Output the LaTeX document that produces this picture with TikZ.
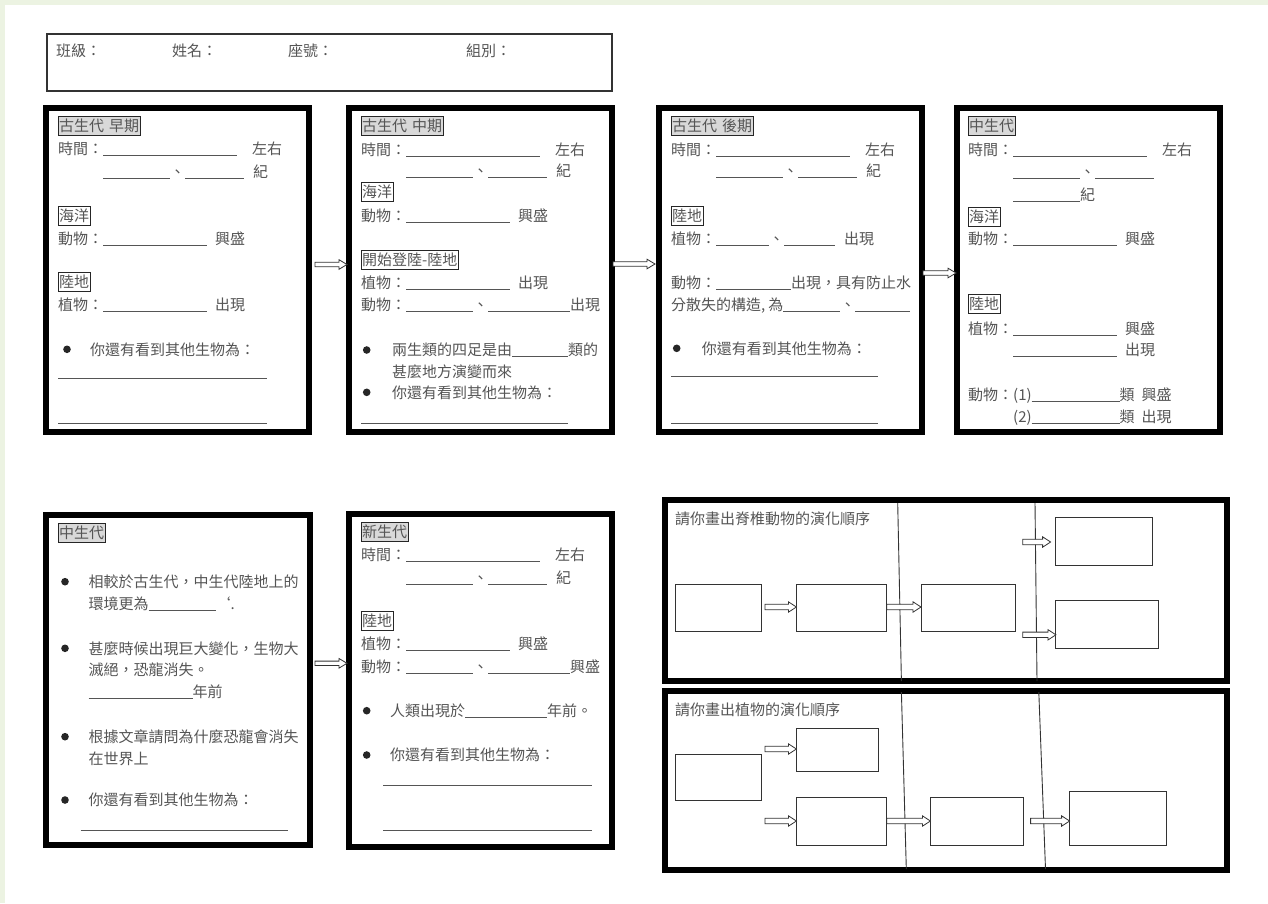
\documentclass[tikz,border=0pt]{standalone}
\usepackage{fontspec}
\setmainfont{Noto Sans CJK TC}
\definecolor{bg}{RGB}{236,243,226}
\definecolor{txt}{RGB}{85,85,85}
\definecolor{hdrfill}{RGB}{217,217,217}
\newcommand{\uln}[1]{\rule[-1.2pt]{#1pt}{0.7pt}}
\newcommand{\barrow}[6]{%
  \draw[arr] (#1,#3-#4) -- (#2-#6,#3-#4) -- (#2-#6,#3-#5) -- (#2,#3) -- (#2-#6,#3+#5) -- (#2-#6,#3+#4) -- (#1,#3+#4) -- cycle;}
\begin{document}
\begin{tikzpicture}[x=1pt,y=-1pt,
  t/.style={anchor=base west, inner sep=0pt, text=txt, font=\fontsize{15}{18}\selectfont},
  tag/.style={t, draw=black!85, line width=0.8pt, inner xsep=0.8pt, inner ysep=2pt, text height=13pt, text depth=2pt},
  hdr/.style={tag, fill=hdrfill},
  frame/.style={draw=black, line width=6pt},
  uline/.style={draw=txt, line width=0.7pt},
  thinline/.style={draw=black!80, line width=0.9pt},
  ebox/.style={draw=black!80, line width=0.9pt},
  arr/.style={draw=black!80, fill=white, line width=0.8pt},
  dot/.style={fill=black!85}]
\useasboundingbox (0,0) rectangle (1268,903);
\fill[bg] (0,0) rectangle (1268,903);
\fill[white] (5,5) rectangle (1268,903);

% header
\draw[black!80, line width=1.2pt] (47,34) rectangle (612,91);
\node[t] (hA) at (56,56.5) {班級：};
\node[t] (hB) at (172,56.5) {姓名：};
\node[t] (hC) at (288,56.5) {座號：};
\node[t] (hD) at (466,56.5) {組別：};

% box 1
\draw[frame] (46,108) rectangle (309,432);
\node[hdr] (a0) at (58,131.5) {古生代\hspace{5pt}早期};
\node[t] (a1) at (58,154.7) {時間：\uln{134}\hspace{15pt}左右};
\node[t] (a2) at (103,177) {\uln{67}、\uln{59}\hspace{9pt}紀};
\node[tag] (a3) at (58,221.7) {海洋};
\node[t] (a4) at (58,244) {動物：\uln{104}\hspace{8pt}興盛};
\node[tag] (a5) at (58,287.7) {陸地};
\node[t] (a6) at (58,310.7) {植物：\uln{104}\hspace{8pt}出現};
\fill[dot] (67,349.3) circle (3.8);
\node[t] (a7) at (90,355) {你還有看到其他生物為：};
\draw[uline] (58,378.3) -- (267,378.3);
\draw[uline] (58,423.3) -- (267,423.3);

% box 2
\draw[frame] (349,108) rectangle (611.5,432);
\node[hdr] (b0) at (361,131.2) {古生代\hspace{5pt}中期};
\node[t] (b1) at (361,155) {時間：\uln{134}\hspace{15pt}左右};
\node[t] (b2) at (406,176.5) {\uln{67}、\uln{59}\hspace{9pt}紀};
\node[tag] (b3) at (361,197.2) {海洋};
\node[t] (b4) at (361,221) {動物：\uln{104}\hspace{8pt}興盛};
\node[tag] (b5) at (361,265.5) {開始登陸-陸地};
\node[t] (b6) at (361,288.4) {植物：\uln{104}\hspace{8pt}出現};
\node[t] (b7) at (361,310.7) {動物：\uln{67}、\uln{82}出現};
\fill[dot] (366.7,350) circle (3.8);
\node[t] (b8) at (392,355.7) {兩生類的四足是由\uln{56}類的};
\node[t] (b9) at (392,377.4) {甚麼地方演變而來};
\fill[dot] (366.7,392.3) circle (3.8);
\node[t] (b10) at (392,398) {你還有看到其他生物為：};
\draw[uline] (361,423.3) -- (568,423.3);

% box 3
\draw[frame] (659,108) rectangle (921.5,432);
\node[hdr] (c0) at (671,131.2) {古生代\hspace{5pt}後期};
\node[t] (c1) at (671,155) {時間：\uln{134}\hspace{15pt}左右};
\node[t] (c2) at (716,176.5) {\uln{67}、\uln{59}\hspace{9pt}紀};
\node[tag] (c3) at (671,221) {陸地};
\node[t] (c4) at (671,244) {植物：\uln{53}、\uln{51}\hspace{9pt}出現};
\node[t] (c5) at (671,288.4) {動物：\uln{75}出現，具有防止水};
\node[t] (c6) at (671,310.7) {分散失的構造,\hspace{3pt}為\uln{57}、\uln{55}};
\fill[dot] (676.7,348.3) circle (3.8);
\node[t] (c7) at (701.7,354) {你還有看到其他生物為：};
\draw[uline] (671,376.7) -- (878.3,376.7);
\draw[uline] (671,423.3) -- (878.3,423.3);

% box 4
\draw[frame] (957,108) rectangle (1220,432);
\node[hdr] (d0) at (968,131.2) {中生代\hspace{7pt}};
\node[t] (d1) at (968,155) {時間：\uln{134}\hspace{15pt}左右};
\node[t] (d2) at (1013,177) {\uln{67}、\uln{59}};
\node[t] (d3) at (1013,200.7) {\uln{67}紀};
\node[tag] (d4) at (968,222) {海洋};
\node[t] (d5) at (968,244) {動物：\uln{104}\hspace{8pt}興盛};
\node[tag] (d6) at (968,309.7) {陸地};
\node[t] (d7) at (968,334) {植物：\uln{104}\hspace{8pt}興盛};
\node[t] (d8) at (1013,355.7) {\uln{104}\hspace{8pt}出現};
\node[t] (d9) at (968,400.7) {動物：(1)\uln{88}類\hspace{7pt}興盛};
\node[t] (d10) at (1013,422.4) {(2)\uln{88}類\hspace{7pt}出現};

% box 5
\draw[frame] (46,514.5) rectangle (310,845);
\node[hdr] (e0) at (58,538.8) {中生代};
\fill[dot] (65,581.7) circle (3.8);
\node[t] (e1) at (88.3,587.4) {相較於古生代，中生代陸地上的};
\node[t] (e2) at (88.3,609) {環境更為\uln{67}\symbol{96}.};
\fill[dot] (65,648.3) circle (3.8);
\node[t] (e3) at (88.3,654) {甚麼時候出現巨大變化，生物大};
\node[t] (e4) at (88.3,675.7) {滅絕，恐龍消失。};
\node[t] (e5) at (88.3,697.4) {\uln{104}年前};
\fill[dot] (65,736.7) circle (3.8);
\node[t] (e6) at (88.3,742.4) {根據文章請問為什麼恐龍會消失};
\node[t] (e7) at (88.3,764) {在世界上};
\fill[dot] (65,800) circle (3.8);
\node[t] (e8) at (88.3,805.7) {你還有看到其他生物為：};
\draw[uline] (80.7,830) -- (288.3,830);

% box 6
\draw[frame] (349,513.5) rectangle (611.5,847);
\node[hdr] (f0) at (361,537.2) {新生代};
\node[t] (f1) at (361,560.7) {時間：\uln{134}\hspace{15pt}左右};
\node[t] (f2) at (406,583) {\uln{67}、\uln{59}\hspace{9pt}紀};
\node[tag] (f3) at (361,626.3) {陸地};
\node[t] (f4) at (361,649.7) {植物：\uln{104}\hspace{8pt}興盛};
\node[t] (f5) at (361,672.4) {動物：\uln{67}、\uln{82}興盛};
\fill[dot] (366.7,710.7) circle (3.8);
\node[t] (f6) at (390,716.4) {人類出現於\uln{82}年前。};
\fill[dot] (366.7,755) circle (3.8);
\node[t] (f7) at (390,760.7) {你還有看到其他生物為：};
\draw[uline] (383.3,785) -- (591.7,785);
\draw[uline] (383.3,830) -- (591.7,830);

% arrows between boxes
\barrow{315}{347}{264.5}{2.2}{4.8}{8}
\barrow{613}{655}{264}{2.2}{4.8}{8}
\barrow{923}{956}{273}{2.2}{4.8}{8}
\barrow{315}{347}{663.3}{2.2}{4.8}{8}

% panel 1: vertebrates
\draw[frame] (665,500) rectangle (1227,681);
\node[t] (p1) at (675,524.5) {請你畫出脊椎動物的演化順序};
\draw[thinline] (897.7,503) -- (901.4,681);
\draw[thinline] (1035,503) -- (1037,681);
\draw[ebox] (675,584.6) rectangle (761,631.4);
\draw[ebox] (796.4,584.6) rectangle (886.6,631.4);
\draw[ebox] (921,584.6) rectangle (1015.4,631.4);
\draw[ebox] (1055.9,517.8) rectangle (1152.7,565.2);
\draw[ebox] (1055.9,600.9) rectangle (1158.7,648.7);
\barrow{765}{796.4}{607}{2.7}{5.2}{8}
\barrow{886.6}{921}{607}{2.7}{5.2}{8}
\barrow{1022.8}{1050.6}{542}{2.7}{5.2}{8}
\barrow{1022.8}{1055.9}{634.8}{2.7}{5.2}{8}

% panel 2: plants
\draw[frame] (665,691) rectangle (1227,870);
\node[t] (p2) at (675,715.3) {請你畫出植物的演化順序};
\draw[thinline] (901.4,692) -- (906.3,869);
\draw[thinline] (1038.8,692) -- (1045.5,869);
\draw[ebox] (675,754) rectangle (761,800.4);
\draw[ebox] (796.4,728.4) rectangle (878.4,771.2);
\draw[ebox] (796.4,797) rectangle (886.6,845);
\draw[ebox] (930.4,797) rectangle (1023.2,845);
\draw[ebox] (1069.6,791) rectangle (1166.8,845.9);
\barrow{765}{796.4}{749}{2.7}{5.2}{8}
\barrow{765}{796.4}{821}{2.7}{5.2}{8}
\barrow{886.6}{930.4}{821}{2.7}{5.2}{8}
\barrow{1030.6}{1069.6}{821}{2.7}{5.2}{8}
\end{tikzpicture}
\end{document}
